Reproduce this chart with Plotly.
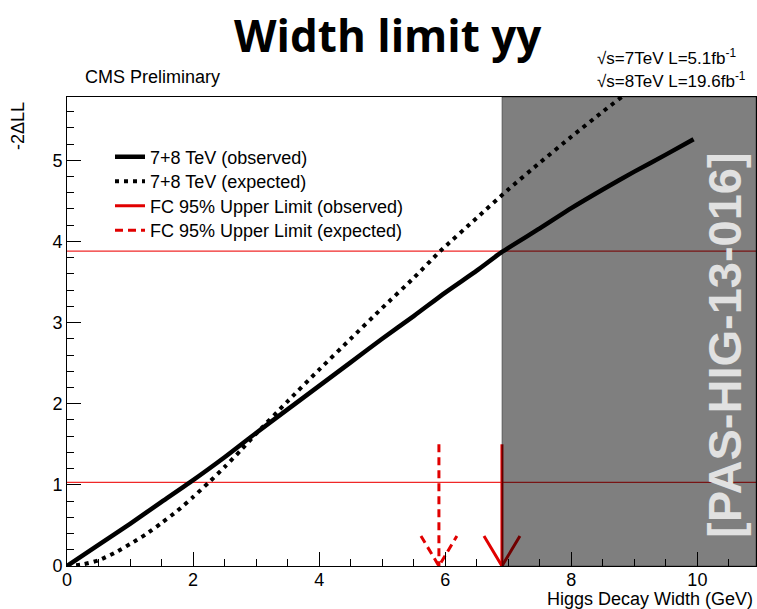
import plotly.graph_objects as go

# Higgs decay width scan, -2 delta log-likelihood
width_obs = [0.0, 0.5, 1.0, 1.5, 1.95, 2.5, 3.0, 3.5, 4.0, 4.5, 5.0, 5.5, 6.0, 6.5, 6.9,
             7.5, 8.0, 8.5, 9.0, 9.5, 9.94]
nll_obs = [0.0, 0.26, 0.52, 0.79, 1.03, 1.34, 1.64, 1.93, 2.22, 2.51, 2.80, 3.08, 3.37, 3.64, 3.87,
           4.16, 4.41, 4.64, 4.86, 5.07, 5.26]

width_exp = [0.0, 0.25, 0.5, 0.75, 1.0, 1.25, 1.5, 1.75, 2.0, 2.25, 2.5, 2.75, 3.0, 3.5, 4.0,
             4.5, 5.0, 5.5, 5.92, 6.5, 7.0, 7.5, 8.0, 8.5, 9.0, 9.5, 9.94]
nll_exp = [0.0, 0.02, 0.07, 0.16, 0.27, 0.39, 0.53, 0.68, 0.85, 1.03, 1.22, 1.42, 1.63, 2.03, 2.42,
           2.80, 3.18, 3.55, 3.88, 4.29, 4.64, 4.97, 5.29, 5.60, 5.90, 6.19, 6.45]

# Feldman-Cousins thresholds and the resulting 95% upper limits (GeV)
fc_thresholds = [1.03, 3.88]
limit_obs = 6.9
limit_exp = 5.9
arrow_top = 1.5

x_range = [0, 10.93]
y_range = [0, 5.78]
x_ticks = [0, 2, 4, 6, 8, 10]
y_ticks = [0, 1, 2, 3, 4, 5]

# page geometry (pixels)
W, H = 757, 609
L, R, T, B = 67, 1, 97, 43
PW, PH = W - L - R, H - T - B


def px(p):
    return (p - L) / PW


def py(p):
    return (H - B - p) / PH


FONT = "Liberation Sans, Arial, Helvetica, sans-serif"
RED = "rgb(225,0,0)"

# arrowhead half width / height in axis units
AH_W, AH_H = 0.285, 0.37

fig = go.Figure()

fig.add_trace(go.Scatter(x=width_obs, y=nll_obs, mode="lines", name="7+8 TeV (observed)",
                         legend="legend",
                         line=dict(color="black", width=4.5, shape="spline", smoothing=0.6)))
fig.add_trace(go.Scatter(x=width_exp, y=nll_exp, mode="lines", name="7+8 TeV (expected)",
                         legend="legend2",
                         line=dict(color="black", width=4, dash="4px,5px",
                                   shape="spline", smoothing=0.6)))

# observed limit arrow
fig.add_trace(go.Scatter(x=[limit_obs, limit_obs], y=[arrow_top, 0], mode="lines",
                         name="FC 95% Upper Limit (observed)", legend="legend3",
                         line=dict(color=RED, width=3)))
fig.add_trace(go.Scatter(x=[limit_obs - AH_W, limit_obs, limit_obs + AH_W], y=[AH_H, 0, AH_H],
                         mode="lines", showlegend=False, line=dict(color=RED, width=3)))
# expected limit arrow
fig.add_trace(go.Scatter(x=[limit_exp, limit_exp], y=[arrow_top, 0], mode="lines",
                         name="FC 95% Upper Limit (expected)", legend="legend4",
                         line=dict(color=RED, width=3, dash="8px,5px")))
fig.add_trace(go.Scatter(x=[limit_exp - AH_W, limit_exp, limit_exp + AH_W], y=[AH_H, 0, AH_H],
                         mode="lines", showlegend=False,
                         line=dict(color=RED, width=3, dash="8px,5px")))

shapes = []
for t in fc_thresholds:
    shapes.append(dict(type="line", xref="x domain", yref="y", x0=0, x1=1, y0=t, y1=t,
                       line=dict(color="rgb(240,40,40)", width=1.3), layer="below"))
# excluded region
shapes.append(dict(type="rect", xref="x", yref="y domain", x0=limit_obs, x1=x_range[1],
                   y0=0, y1=1, fillcolor="rgba(0,0,0,0.5)",
                   line=dict(color="rgba(0,0,0,0.35)", width=1), layer="above"))

annotations = [
    dict(text="<b>Width limit yy</b>", x=px(387.5), y=py(35), xref="paper", yref="paper",
         showarrow=False, font=dict(family="Open Sans", size=44, color="black"),
         xanchor="center", yanchor="middle"),
    dict(text="CMS Preliminary", x=px(83), y=py(77), xref="paper", yref="paper",
         showarrow=False, font=dict(family=FONT, size=18, color="black"),
         xanchor="left", yanchor="middle"),
    dict(text="√s=7TeV L=5.1fb<sup>-1</sup>", x=px(595), y=py(57), xref="paper", yref="paper",
         showarrow=False, font=dict(family=FONT, size=17, color="black"),
         xanchor="left", yanchor="middle"),
    dict(text="√s=8TeV L=19.6fb<sup>-1</sup>", x=px(595), y=py(80), xref="paper", yref="paper",
         showarrow=False, font=dict(family=FONT, size=17, color="black"),
         xanchor="left", yanchor="middle"),
    dict(text="-2ΔLL", x=px(18), y=py(100), xref="paper", yref="paper", textangle=-90,
         showarrow=False, font=dict(family=FONT, size=18, color="black"),
         xanchor="center", yanchor="top"),
    dict(text="Higgs Decay Width (GeV)", x=px(755), y=py(599), xref="paper", yref="paper",
         showarrow=False, font=dict(family=FONT, size=18, color="black"),
         xanchor="right", yanchor="middle"),
    dict(text="<b>[PAS-HIG-13-016]</b>", x=px(724), y=py(345), xref="paper", yref="paper",
         textangle=-90, showarrow=False,
         font=dict(family=FONT, size=47, color="rgb(225,225,225)"),
         xanchor="center", yanchor="middle"),
]

axis_common = dict(
    showgrid=False, zeroline=False, showline=True, linecolor="black", linewidth=1,
    mirror=True, ticks="inside", ticklen=14, tickwidth=1, tickcolor="black",
    tickfont=dict(family=FONT, size=18, color="black"),
)


def legend_at(ypix):
    return dict(x=px(110), y=py(ypix), xanchor="left", yanchor="middle",
                bgcolor="rgba(0,0,0,0)", borderwidth=0,
                font=dict(family=FONT, size=18, color="black"))


fig.update_layout(
    width=W, height=H,
    margin=dict(l=L, r=R, t=T, b=B, pad=0),
    paper_bgcolor="white", plot_bgcolor="white",
    font=dict(family=FONT, size=18, color="black"),
    xaxis=dict(range=x_range, tickvals=x_ticks, ticktext=[str(v) for v in x_ticks],
               ticklabelstandoff=-3,
               minor=dict(dtick=0.5, ticks="inside", ticklen=7, tickcolor="black"),
               **axis_common),
    yaxis=dict(range=y_range, tickvals=y_ticks, ticktext=[str(v) for v in y_ticks],
               minor=dict(dtick=0.2, ticks="inside", ticklen=7, tickcolor="black"),
               **axis_common),
    legend=legend_at(157),
    legend2=legend_at(181.5),
    legend3=legend_at(206),
    legend4=legend_at(230.5),
    shapes=shapes,
    annotations=annotations,
    showlegend=True,
)

fig.write_html("out.html")
